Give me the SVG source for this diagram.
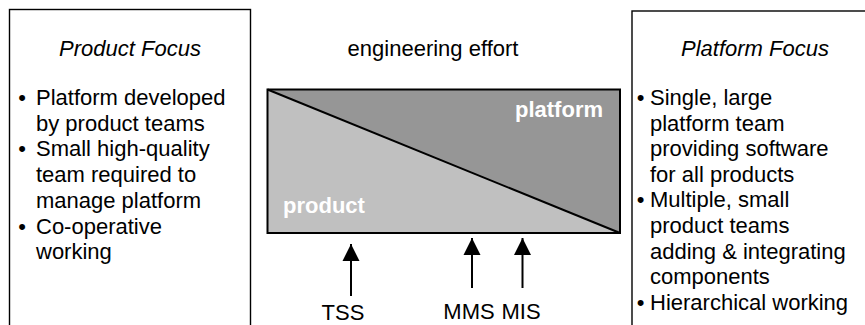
<svg xmlns="http://www.w3.org/2000/svg" width="865" height="325" viewBox="0 0 865 325">
  <style>
    text { font-family: "Liberation Sans", Arial, Helvetica, sans-serif; font-size: 22px; fill: #000; }
    .head { font-style: italic; text-anchor: middle; }
    .bullet { text-anchor: middle; }
    .area { font-weight: bold; fill: #fff; }
    .label { text-anchor: middle; }
    .panel { fill: #fff; stroke: #000; stroke-width: 1.4; }
    .arrow { stroke: #000; stroke-width: 2; fill: none; marker-end: url(#tip); }
  </style>
  <defs>
    <marker id="tip" markerUnits="userSpaceOnUse" markerWidth="18" markerHeight="18" viewBox="0 0 18 18" refX="17" refY="9" orient="auto">
      <path d="M0,0.5 L17,9 L0,17.5 Z" fill="#000"/>
    </marker>
  </defs>
  <rect width="865" height="325" fill="#fff"/>

  <!-- left panel: product focus -->
  <g id="product-focus">
    <rect class="panel" x="9.5" y="9.5" width="241" height="330"/>
    <text class="head" x="130" y="56">Product Focus</text>
    <text class="bullet" x="22" y="105">•</text>
    <text x="36" y="105">Platform developed</text>
    <text x="36" y="130.7">by product teams</text>
    <text class="bullet" x="22" y="156.4">•</text>
    <text x="36" y="156.4">Small high-quality</text>
    <text x="36" y="182.1">team required to</text>
    <text x="36" y="207.8">manage platform</text>
    <text class="bullet" x="22" y="233.5">•</text>
    <text x="36" y="233.5">Co-operative</text>
    <text x="36" y="259.2">working</text>
  </g>

  <!-- centre: engineering effort split -->
  <g id="engineering-effort">
    <text x="433" y="56" text-anchor="middle">engineering effort</text>
    <polygon points="267.5,89.5 620,89.5 620,233" fill="#969696"/>
    <polygon points="267.5,89.5 620,233 267.5,233" fill="#c0c0c0"/>
    <rect x="267.5" y="89.5" width="352.5" height="143.5" fill="none" stroke="#000" stroke-width="2"/>
    <line x1="267.5" y1="89.5" x2="620" y2="233" stroke="#000" stroke-width="2"/>
    <text class="area" x="515" y="117">platform</text>
    <text class="area" x="283" y="213">product</text>
  </g>

  <!-- right panel: platform focus -->
  <g id="platform-focus">
    <rect class="panel" x="632" y="11" width="250" height="330"/>
    <text class="head" x="755" y="56">Platform Focus</text>
    <text class="bullet" x="640.5" y="105">•</text>
    <text x="650" y="105">Single, large</text>
    <text x="650" y="130.6">platform team</text>
    <text x="650" y="156.2">providing software</text>
    <text x="650" y="181.8">for all products</text>
    <text class="bullet" x="640.5" y="207.4">•</text>
    <text x="650" y="207.4">Multiple, small</text>
    <text x="650" y="233">product teams</text>
    <text x="650" y="258.6">adding &amp; integrating</text>
    <text x="650" y="284.2">components</text>
    <text class="bullet" x="640.5" y="309.8">•</text>
    <text x="650" y="309.8">Hierarchical working</text>
  </g>

  <!-- system labels -->
  <g id="tss"><text class="label" x="343" y="320">TSS</text></g>
  <g id="mms"><text class="label" x="469" y="319">MMS</text></g>
  <g id="mis"><text class="label" x="521" y="319">MIS</text></g>

  <!-- arrows pointing at the effort split -->
  <g id="connectors">
    <line class="arrow" x1="351" y1="296" x2="351" y2="244"/>
    <line class="arrow" x1="472" y1="288" x2="472" y2="238"/>
    <line class="arrow" x1="522.5" y1="288" x2="522.5" y2="238"/>
  </g>
</svg>
